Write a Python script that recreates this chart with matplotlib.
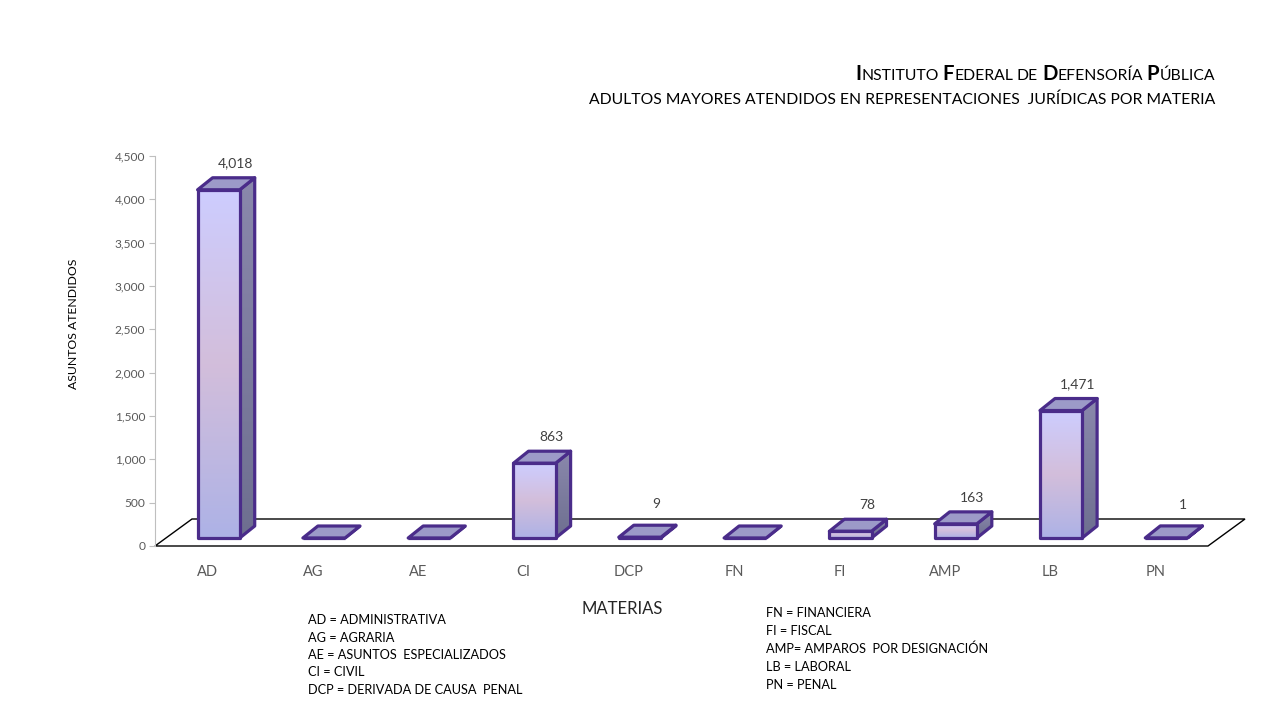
import matplotlib
matplotlib.use('Agg')
import matplotlib.pyplot as plt
import matplotlib.patches as mpatches
from matplotlib.colors import LinearSegmentedColormap
from matplotlib.ticker import FuncFormatter
import numpy as np

# Datos
categorias = ['AD', 'AG', 'AE', 'CI', 'DCP', 'FN', 'FI', 'AMP', 'LB', 'PN']
asuntos = [4018, 0, 0, 863, 9, 0, 78, 163, 1471, 1]
ticks_y = [0, 500, 1000, 1500, 2000, 2500, 3000, 3500, 4000, 4500]

notas_izq = ['AD = ADMINISTRATIVA', 'AG = AGRARIA', 'AE = ASUNTOS  ESPECIALIZADOS',
             'CI = CIVIL', 'DCP = DERIVADA DE CAUSA  PENAL']
notas_der = ['FN = FINANCIERA', 'FI = FISCAL', 'AMP= AMPAROS  POR DESIGNACIÓN',
             'LB = LABORAL', 'PN = PENAL']

titulo = [('I', 'NSTITUTO'), ('F', 'EDERAL'), ('', 'DE'), ('D', 'EFENSORÍA'), ('P', 'ÚBLICA')]
subtitulo = 'ADULTOS MAYORES ATENDIDOS EN REPRESENTACIONES  JURÍDICAS POR MATERIA'

# Configuración
FIG_W, FIG_H, DPI = 12.8, 7.2, 100
FONT = ['Lato', 'DejaVu Sans']
EDGE = '#4a2c8a'
TOP_COLOR = '#9c9ac8'
GRIS = '#595959'

FRONT_CMAP = LinearSegmentedColormap.from_list('frente', ['#adb2e6', '#d3bedb', '#cdcdff'])
SIDE_CMAP = LinearSegmentedColormap.from_list('lado', ['#6e6f90', '#8a88ac'])


def setup_plot():
    plt.rcParams['font.family'] = FONT
    plt.rcParams['figure.facecolor'] = 'white'


def draw_smallcaps(fig, words, x_right, y, big_size, small_size):
    """Texto en versalitas alineado a la derecha (título)"""
    renderer = fig.canvas.get_renderer()
    tmp = fig.text(0, 0, 'I I', fontsize=small_size)
    w2 = tmp.get_window_extent(renderer).width
    tmp.set_text('II')
    space = w2 - tmp.get_window_extent(renderer).width
    tmp.remove()

    pieces = []
    for big, small in words:
        if big:
            pieces.append(fig.text(0, y, big, fontsize=big_size, fontweight='bold', va='baseline'))
        pieces.append(fig.text(0, y, small, fontsize=small_size, va='baseline'))
        pieces.append(None)  # espacio
    pieces = pieces[:-1]

    widths = [space if p is None else p.get_window_extent(renderer).width for p in pieces]
    x = x_right * FIG_W * DPI - sum(widths)
    for p, w in zip(pieces, widths):
        if p is not None:
            p.set_x(x / (FIG_W * DPI))
        x += w


def main():
    setup_plot()
    fig = plt.figure(figsize=(FIG_W, FIG_H), dpi=DPI)
    ax = fig.add_axes([155 / 1280, 174 / 720, 1053 / 1280, 390 / 720])
    n = len(categorias)
    ax.set_xlim(-0.5, n - 0.5)
    ax.set_ylim(0, 4500)

    # Conversión pixeles -> unidades de datos
    ux = (n) / (1053)
    uy = 4500 / 390

    # Piso en perspectiva
    fdx, fdy = 37 * ux, 27 * uy
    piso = mpatches.Polygon([(-0.5, 0), (n - 0.5, 0), (n - 0.5 + fdx, fdy), (-0.5 + fdx, fdy)],
                            closed=True, facecolor='white', edgecolor='black', lw=1.0,
                            clip_on=False, zorder=1)
    ax.add_patch(piso)

    # Barras 3D
    off_x, off_y = 11 * ux, 8 * uy
    bdx, bdy = 15 * ux, 12 * uy
    half = 0.2
    for i, v in enumerate(asuntos):
        x0, x1 = i - half + off_x, i + half + off_x
        y0, y1 = off_y, off_y + v

        side = mpatches.Polygon([(x1, y0), (x1 + bdx, y0 + bdy), (x1 + bdx, y1 + bdy), (x1, y1)],
                                closed=True, facecolor='none', edgecolor=EDGE, lw=2.3,
                                joinstyle='round', clip_on=False, zorder=4)
        ax.add_patch(side)
        if v > 0:
            grad = np.linspace(0, 1, 128).reshape(-1, 1)
            im = ax.imshow(grad, extent=[x1, x1 + bdx, y0, y1 + bdy], origin='lower',
                           cmap=SIDE_CMAP, aspect='auto', interpolation='bilinear', zorder=3)
            im.set_clip_path(side)

        top = mpatches.Polygon([(x0, y1), (x1, y1), (x1 + bdx, y1 + bdy), (x0 + bdx, y1 + bdy)],
                               closed=True, facecolor=TOP_COLOR, edgecolor=EDGE, lw=2.3,
                               joinstyle='round', clip_on=False, zorder=4)
        ax.add_patch(top)

        front = mpatches.Rectangle((x0, y0), x1 - x0, v, facecolor='none', edgecolor=EDGE,
                                   lw=2.3, joinstyle='round', clip_on=False, zorder=6)
        ax.add_patch(front)
        if v > 0:
            grad = np.linspace(0, 1, 256).reshape(-1, 1)
            im = ax.imshow(grad, extent=[x0, x1, y0, y1], origin='lower', cmap=FRONT_CMAP,
                           aspect='auto', interpolation='bilinear', zorder=5)
            im.set_clip_path(front)

            # valores pequeños: Excel deja la etiqueta algo más arriba
            extra = 6 if v > 50 else 11
            ax.annotate(f'{v:,}', xy=((x0 + x1) / 2 + bdx, y1 + bdy), xytext=(1, extra),
                        textcoords='offset points', ha='center', va='bottom',
                        fontsize=10, color='#404040')

    ax.set_xlim(-0.5, n - 0.5)
    ax.set_ylim(0, 4500)

    # Ejes
    for s in ['top', 'right', 'bottom']:
        ax.spines[s].set_visible(False)
    ax.spines['left'].set_color('#bfbfbf')
    ax.set_yticks(ticks_y)
    ax.yaxis.set_major_formatter(FuncFormatter(lambda val, pos: f'{int(val):,}'))
    ax.tick_params(axis='y', colors='#bfbfbf', labelcolor=GRIS, labelsize=8.6, length=4, pad=3)
    ax.set_xticks(range(n))
    ax.set_xticklabels(categorias)
    ax.tick_params(axis='x', length=0, pad=14, labelsize=10.5, labelcolor=GRIS)

    ax.set_ylabel('ASUNTOS ATENDIDOS', fontsize=8.8, color='black', labelpad=0)
    ax.yaxis.set_label_coords(-76 / 1053, 0.57)
    ax.set_xlabel('MATERIAS', fontsize=12, color='#262626', labelpad=10)
    ax.xaxis.set_label_coords((622 - 155) / 1053, -55 / 390)

    # Títulos
    draw_smallcaps(fig, titulo, 1215 / 1280, 1 - 80 / 720, 14.6, 11.3)
    fig.text(1215 / 1280, 1 - 104 / 720, subtitulo, ha='right', va='baseline',
             fontsize=11.3, color='black')

    # Notas de abreviaturas
    for k, t in enumerate(notas_izq):
        fig.text(308 / 1280, 1 - (620 + k * 17.5) / 720, t, ha='left', va='center',
                 fontsize=9.2, color='black')
    for k, t in enumerate(notas_der):
        fig.text(766 / 1280, 1 - (613 + k * 18) / 720, t, ha='left', va='center',
                 fontsize=9.2, color='black')

    fig.savefig('out.png', dpi=DPI)
    plt.close(fig)


if __name__ == '__main__':
    main()
